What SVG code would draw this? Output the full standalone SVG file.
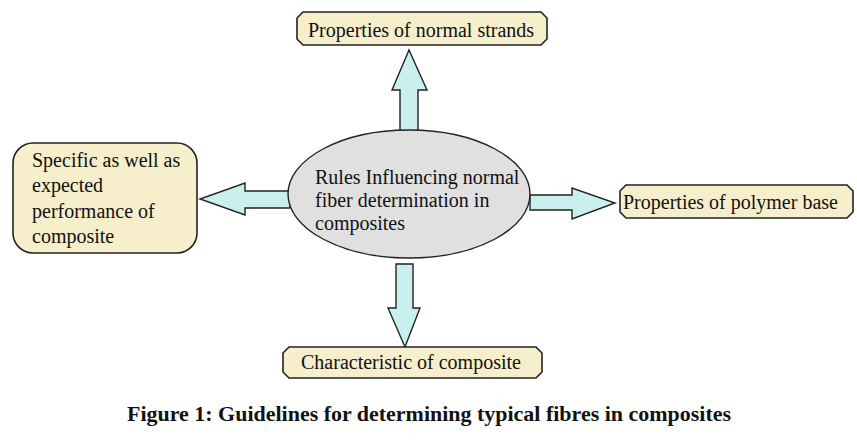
<svg xmlns="http://www.w3.org/2000/svg" width="857" height="440" viewBox="0 0 857 440">
<style>
text{font-family:"Liberation Serif","Times New Roman",serif;fill:#111;}
.lbl{font-size:20px;}
.box{fill:#f7eecb;stroke:#222;stroke-width:1.6;}
.arr{fill:#c9efee;stroke:#222;stroke-width:1.4;stroke-linejoin:miter;}
.cap{font-size:21px;font-weight:bold;}
</style>
<rect width="857" height="440" fill="#fff"/>
<g id="connectors">
<polygon class="arr" points="400,131 400,90 392,90 409,50 427,90 418,90 418,131"/>
<polygon class="arr" points="290,191 245,191 245,183 200,199 245,215 245,208 290,208"/>
<polygon class="arr" points="530,195 572,195 572,188 615,203 572,219 572,210 530,210"/>
<polygon class="arr" points="396,264 413,264 413,308 420,308 405,347 388,308 396,308"/>
</g>
<g id="center">
<ellipse cx="409" cy="194" rx="121" ry="64" fill="#e0e0e0" stroke="#222" stroke-width="1.4"/>
<text class="lbl" x="315" y="184">Rules Influencing normal</text>
<text class="lbl" x="315" y="207">fiber determination in</text>
<text class="lbl" x="315" y="230">composites</text>
</g>
<g id="top">
<path class="box" d="M303,12 H541 L547,18 V39 L541,45 H303 L297,39 V18 Z"/>
<text class="lbl" x="308" y="37">Properties of normal strands</text>
</g>
<g id="left">
<rect class="box" x="13" y="143" width="184" height="110" rx="20"/>
<text class="lbl" x="32" y="167">Specific as well as</text>
<text class="lbl" x="32" y="192">expected</text>
<text class="lbl" x="32" y="218">performance of</text>
<text class="lbl" x="32" y="243">composite</text>
</g>
<g id="right">
<path class="box" d="M626,185 H847 L853,191 V212 L847,218 H626 L620,212 V191 Z"/>
<text class="lbl" x="623" y="209">Properties of polymer base</text>
</g>
<g id="bottom">
<path class="box" d="M289,347 H536 L542,353 V372 L536,378 H289 L283,372 V353 Z"/>
<text class="lbl" x="301" y="369">Characteristic of composite</text>
</g>
<text class="cap" x="429" y="421" text-anchor="middle" textLength="604" lengthAdjust="spacingAndGlyphs">Figure 1: Guidelines for determining typical fibres in composites</text>
</svg>
